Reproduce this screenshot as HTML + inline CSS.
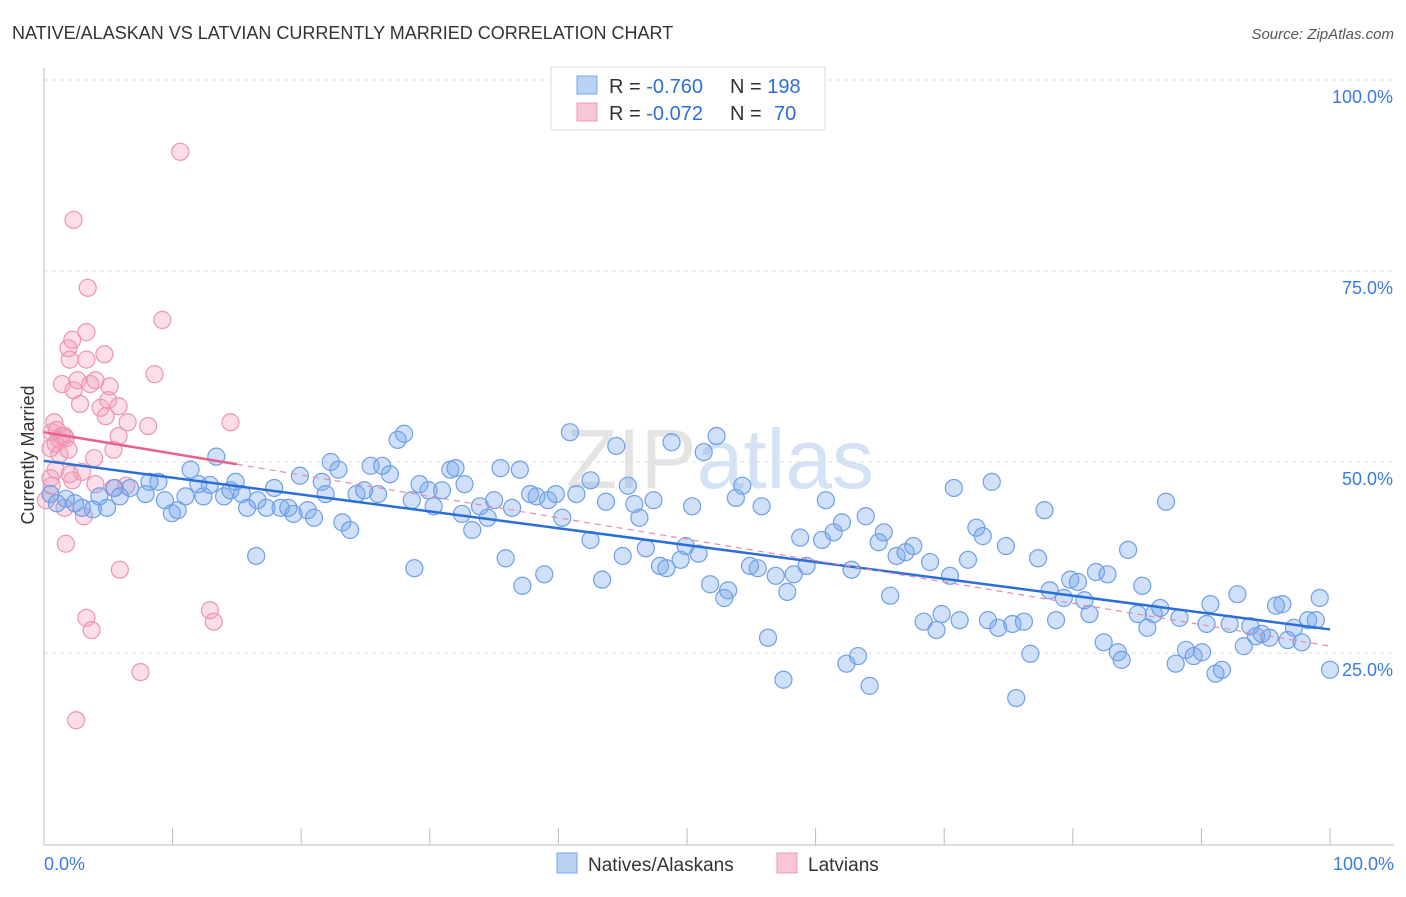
<!DOCTYPE html>
<html><head><meta charset="utf-8"><style>
body{margin:0;background:#fff;font-family:"Liberation Sans",sans-serif;}
svg text{font-family:"Liberation Sans",sans-serif;}
</style></head><body>
<svg id="c" width="1406" height="892">
<text x="12" y="39" font-size="18" fill="#333">NATIVE/ALASKAN VS LATVIAN CURRENTLY MARRIED CORRELATION CHART</text>
<text x="1394" y="39" font-size="15" fill="#555" text-anchor="end" font-style="italic">Source: ZipAtlas.com</text>
<text x="720" y="488" font-size="84" fill="#e4e4e4" text-anchor="middle" font-family="Liberation Serif">ZIP<tspan fill="#d3e3f5" font-family="Liberation Sans">atlas</tspan></text>
<text transform="translate(34,455) rotate(-90)" font-size="18" fill="#333" text-anchor="middle">Currently Married</text>
<g id="grid"></g><g id="pts"></g><g id="trend"></g>
<g>
<rect x="551" y="67" width="274" height="63" fill="#fff" stroke="#ddd"/>
<rect x="577" y="76" width="20" height="18" fill="#b9d3f5" stroke="#7aa6e6"/>
<rect x="577" y="103" width="20" height="18" fill="#f8c6d6" stroke="#eb9ab8"/>
<text x="609" y="93" font-size="20" fill="#333">R = <tspan fill="#2a6fd6">-0.760</tspan></text>
<text x="730" y="93" font-size="20" fill="#333">N = <tspan fill="#2a6fd6">198</tspan></text>
<text x="609" y="120" font-size="20" fill="#333">R = <tspan fill="#2a6fd6">-0.072</tspan></text>
<text x="730" y="120" font-size="20" fill="#333">N = <tspan fill="#2a6fd6" x="774">70</tspan></text>
</g>
<g>
<rect x="557" y="853" width="20" height="20" fill="#b9d3f5" stroke="#7aa6e6"/>
<text x="588" y="871" font-size="19" fill="#333">Natives/Alaskans</text>
<rect x="777" y="853" width="20" height="20" fill="#f8c6d6" stroke="#eb9ab8"/>
<text x="808" y="871" font-size="19" fill="#333">Latvians</text>
</g>
</svg>
<script>
const yTicks=[25,50,75,100];
const yTickLabels=["25.0%","50.0%","75.0%","100.0%"];
const xTickLabels=["0.0%","100.0%"];
const blueX=[0.5,1.0,1.7,2.4,2.95,3.8,4.3,4.9,5.5,5.9,6.7,7.9,8.2,8.9,9.4,9.95,10.4,11.0,11.4,12.0,12.4,12.9,13.4,14.0,14.5,14.9,15.4,15.8,16.5,16.6,17.3,17.9,18.4,19.0,19.4,19.9,20.5,21.0,21.6,21.9,22.3,22.9,23.2,23.8,24.3,24.9,25.4,25.975,26.3,26.9,27.5,28.0,28.8,28.6,29.2,29.9,30.3,30.95,31.6,32.0,32.5,32.7,33.3,33.9,34.5,35.0,35.5,35.9,36.4,37.0,37.2,37.8,38.3,38.9,39.2,39.8,40.3,40.9,41.4,42.5,42.5,43.4,43.7,44.5,45.0,45.4,45.9,46.3,46.8,47.4,47.9,48.4,48.8,49.5,49.9,50.4,50.9,51.3,51.8,52.3,52.9,53.2,53.8,54.3,54.9,55.5,55.8,56.3,56.9,57.5,57.8,58.3,58.8,59.3,60.5,60.8,61.4,62.05,62.4,62.8,63.3,63.9,64.2,64.9,65.3,65.8,66.3,67.0,67.6,68.4,68.9,69.4,69.8,70.45,70.75,71.2,71.85,72.5,73.0,73.4,73.7,74.2,74.8,75.3,75.6,76.2,76.7,77.3,77.8,78.2,78.7,79.3,79.8,80.4,80.9,81.3,81.8,82.4,82.7,83.5,83.8,84.3,85.05,85.4,85.8,86.3,86.8,87.25,88.0,88.3,88.8,89.4,90.05,90.4,90.7,91.1,91.6,92.2,92.8,93.3,93.8,94.25,94.7,95.3,95.8,96.3,96.7,97.2,97.8,98.3,98.9,99.2,100];
const blueY=[45.8,44.6,45.2,44.6,44.0,43.8,45.5,44.0,46.6,45.5,46.6,45.8,47.4,47.4,45.0,43.3,43.7,45.5,49.0,47.1,45.5,47.0,50.7,45.5,46.3,47.4,45.8,44.0,37.7,45.0,44.0,46.6,44.0,44.0,43.2,48.2,43.7,42.7,47.4,45.8,50.0,49.0,42.1,41.1,45.8,46.3,49.5,45.8,49.5,48.4,52.9,53.7,36.1,45.0,47.1,46.3,44.2,46.3,49.0,49.2,43.2,47.1,41.1,44.2,42.7,45.0,49.2,37.4,44.0,49.0,33.8,45.8,45.5,35.3,45.0,45.8,42.7,53.9,45.8,39.8,47.6,34.6,44.8,52.1,37.7,46.9,44.5,42.7,38.7,45.0,36.4,36.1,52.6,37.2,39.0,44.2,38.0,51.3,34.0,53.4,32.2,33.2,45.3,46.9,36.4,36.1,44.2,27.0,35.1,21.5,33.0,35.3,40.1,36.4,39.8,45.0,40.8,42.1,23.6,35.9,24.6,42.9,20.7,39.5,40.8,32.5,37.7,38.2,39.0,29.1,36.9,28.0,30.1,35.1,46.6,29.3,37.2,41.4,40.3,29.3,47.4,28.3,39.0,28.8,19.1,29.1,24.9,37.4,43.7,33.2,29.3,32.2,34.6,34.3,31.9,30.1,35.6,26.4,35.3,25.1,24.1,38.5,30.1,33.8,28.3,30.1,30.9,44.8,23.6,29.6,25.4,24.6,25.1,28.8,31.4,22.3,22.8,28.8,32.7,25.9,28.5,27.2,27.5,27.0,31.2,31.4,26.7,28.3,26.4,29.3,29.3,32.2,22.8];
const pinkX=[0.15,0.5,0.6,0.8,0.9,1.0,1.2,1.2,1.4,1.6,1.7,1.9,2.0,2.0,2.2,2.3,2.3,2.5,2.6,2.8,2.95,3.1,3.3,3.3,3.3,3.4,3.6,3.7,3.9,4.0,4.4,4.7,4.8,5.0,5.1,5.4,5.4,5.8,5.8,5.9,6.4,6.5,7.5,8.1,8.6,9.2,10.6,12.9,13.2,14.5,0.5,0.6,0.9,1.4,1.7,1.9,2.2,4.0,1.6];
const pinkY=[45.0,51.8,53.9,55.2,49.0,54.2,52.9,51.0,60.2,53.4,39.3,64.9,63.4,48.4,66.0,81.7,59.4,16.2,60.7,57.6,48.7,42.9,67.0,63.4,29.6,72.8,60.2,28.0,50.5,47.1,57.1,64.1,56.0,58.1,59.9,46.6,51.6,57.3,53.4,35.9,46.9,55.2,22.5,54.7,61.5,68.6,90.6,30.6,29.1,55.2,47.9,46.9,52.4,53.4,53.1,51.6,47.6,60.7,44.0];
// fitted trend for Latvians as shown in the source (intercept, slope per %)
const pinkTrend=[53.9,-0.28];
const NS="http://www.w3.org/2000/svg";
const X=v=>44+v*12.86, Y=v=>844-v*7.64;
function mk(t,a,p){const e=document.createElementNS(NS,t);for(const k in a)e.setAttribute(k,a[k]);p.appendChild(e);return e;}
const g=document.getElementById('grid');
yTicks.forEach((t,i)=>{
 const l=mk('line',{x1:44,x2:1394,y1:Y(t),y2:Y(t),stroke:'#ddd','stroke-dasharray':'4,4'},g);
 
 
 const tx=mk('text',{x:1393,y:Y(t)+23,'font-size':18,fill:'#3a7be0','text-anchor':'end'},g);
 tx.textContent=yTickLabels[i];
 
 
});
mk('line',{x1:44,x2:44,y1:68,y2:845,stroke:'#bbb'},g);
mk('line',{x1:44,x2:1394,y1:845,y2:845,stroke:'#bbb'},g);
for(let i=0;i<=10;i++){const l=mk('line',{x1:X(i*10),x2:X(i*10),y1:828,y2:845,stroke:'#bbb'},g);
 
 }
[[0,'start',44],[100,'end',1394]].forEach((d,i)=>{const t=mk('text',{x:d[2],y:870,'font-size':18,fill:'#3a7be0','text-anchor':d[1]},g);t.textContent=xTickLabels[i];
 
 });
const P=document.getElementById('pts');
function pts(xs,ys,fill,stroke,name){xs.forEach((x,i)=>{const c=mk('circle',{cx:X(x),cy:Y(ys[i]),r:8.5,fill:fill,stroke:stroke,'stroke-width':1.2},P);
 
 });}
pts(pinkX,pinkY,'rgba(244,160,190,0.35)','#ec94b4','latvian-point');
pts(blueX,blueY,'rgba(120,165,235,0.35)','#6f9fe6','native-point');
function reg(xs,ys){const n=xs.length;let mx=0,my=0;xs.forEach((x,i)=>{mx+=x;my+=ys[i]});mx/=n;my/=n;let sxy=0,sxx=0;xs.forEach((x,i)=>{sxy+=(x-mx)*(ys[i]-my);sxx+=(x-mx)**2});const b=sxy/sxx;return [my-b*mx,b];}
const T=document.getElementById('trend');
const [ba,bb]=reg(blueX,blueY);
const bl=mk('line',{x1:X(0),y1:Y(ba),x2:X(100),y2:Y(ba+bb*100),stroke:'#2a6fd6','stroke-width':2.5},T);


const [pa,pb]=pinkTrend;
const pd=mk('line',{x1:X(15),y1:Y(pa+pb*15),x2:X(100),y2:Y(pa+pb*100),stroke:'#e88aab','stroke-width':1.2,'stroke-dasharray':'6,5'},T);


const pl=mk('line',{x1:X(0),y1:Y(pa),x2:X(15),y2:Y(pa+pb*15),stroke:'#e8608e','stroke-width':2.5},T);


</script>
</body></html>
